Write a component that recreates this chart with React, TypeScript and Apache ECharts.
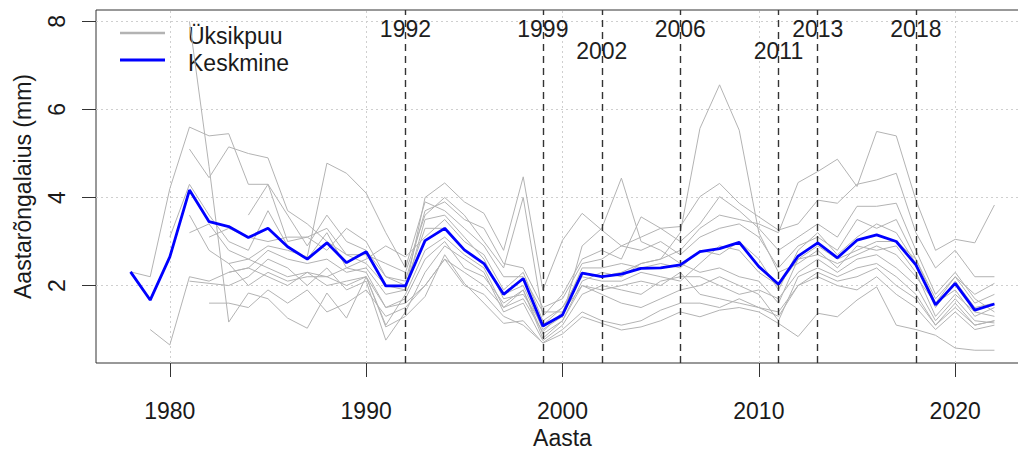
import React, { useEffect, useRef } from "react";
import * as echarts from "echarts";

const FIRST_YEAR = 1978;
const LAST_YEAR = 2022;
const YEARS: number[] = [];
for (let y = FIRST_YEAR; y <= LAST_YEAR; y++) YEARS.push(y);

// Keskmine (mean ring width, mm) 1978..2022
const MEAN = [
  2.31, 1.67, 2.65, 4.17, 3.45, 3.34, 3.09, 3.3, 2.88, 2.6,
  2.97, 2.52, 2.77, 1.99, 1.99, 3.02, 3.3, 2.81, 2.5, 1.8,
  2.16, 1.08, 1.33, 2.28, 2.2, 2.26, 2.39, 2.4, 2.47, 2.77,
  2.84, 2.98, 2.43, 2.03, 2.67, 2.97, 2.63, 3.03, 3.15, 3.0,
  2.47, 1.56, 2.05, 1.44, 1.58,
];

// Üksikpuu (individual trees): first year + yearly values up to 2022
const T1_START = 1978;
const T1 = [2.31, 2.2, 4.2, 5.6, 5.4, 5.45, 4.3, 4.3, 3.6, 2.9, 3.6, 3.0, 2.8, 2.2, 2.1, 3.7, 3.9, 3.5, 3.3, 2.5, 2.4, 1.5, 1.7, 2.5, 2.6, 2.9, 2.8, 3.0, 2.7, 3.1, 3.3, 3.4, 3.1, 2.4, 2.9, 3.1, 2.8, 3.5, 3.3, 3.5, 2.6, 1.7, 2.2, 1.6, 1.8];
const T2_START = 1979;
const T2 = [1.0, 0.65, 2.2, 2.1, 2.3, 2.4, 2.2, 2.0, 2.3, 2.2, 2.4, 2.3, 1.5, 1.6, 2.0, 2.6, 2.3, 2.0, 1.5, 1.9, 0.8, 1.2, 2.0, 1.9, 2.0, 2.1, 2.0, 2.3, 1.8, 1.7, 1.6, 1.5, 1.3, 2.0, 2.3, 2.1, 2.2, 2.4, 2.0, 1.7, 1.1, 1.5, 1.1, 1.2];
const T3_START = 1980;
const T3 = [3.1, 4.3, 3.6, 3.0, 2.8, 3.7, 2.9, 2.6, 3.2, 2.4, 2.6, 2.9, 2.65, 3.1, 3.5, 3.0, 2.7, 1.9, 2.3, 1.2, 1.5, 2.3, 2.2, 2.3, 2.5, 2.6, 2.8, 3.3, 3.6, 3.5, 3.4, 3.2, 4.34, 4.59, 4.87, 4.25, 5.5, 5.4, 3.94, 2.8, 3.05, 2.97, 3.83];
const T4_START = 1981;
const T4 = [8.0, 4.7, 1.17, 1.83, 1.7, 1.26, 1.03, 1.83, 1.26, 2.2, 1.06, 1.3, 1.75, 2.7, 2.05, 1.6, 1.14, 1.2, 0.69, 0.9, 1.29, 1.14, 0.99, 1.06, 1.2, 1.4, 1.29, 1.44, 1.5, 1.4, 1.14, 0.84, 1.37, 1.29, 1.67, 1.97, 1.1, 1.0, 0.87, 0.58, 0.53, 0.53];
const T5_START = 1981;
const T5 = [5.1, 4.45, 5.15, 5.0, 4.9, 3.7, 3.4, 3.0, 2.7, 2.5, 2.0, 1.9, 4.0, 4.33, 3.9, 3.64, 2.8, 4.47, 1.9, 3.03, 3.64, 3.26, 2.9, 3.1, 3.3, 3.34, 4.02, 4.32, 3.87, 3.56, 3.26, 3.4, 3.94, 3.87, 4.3, 4.4, 4.55, 3.2, 2.4, 2.8, 2.2, 2.2];
const T6_START = 1981;
const T6 = [3.6, 2.8, 2.5, 2.6, 2.4, 2.2, 2.3, 2.0, 2.1, 2.2, 1.5, 1.7, 2.6, 3.0, 2.4, 2.2, 1.6, 1.9, 0.9, 1.2, 2.1, 2.3, 2.2, 2.5, 2.6, 3.2, 5.57, 6.56, 5.53, 3.2, 2.3, 2.5, 2.8, 2.4, 2.9, 2.8, 2.9, 2.3, 1.3, 1.8, 1.4, 1.3];
const T7_START = 1981;
const T7 = [3.2, 3.4, 2.8, 2.6, 2.9, 2.8, 2.65, 4.78, 4.55, 4.1, 3.2, 2.4, 3.9, 3.7, 3.3, 2.9, 2.2, 2.2, 1.4, 1.4, 2.4, 2.4, 2.5, 2.4, 2.5, 2.4, 2.8, 2.7, 3.0, 2.6, 1.9, 2.8, 3.2, 2.7, 3.1, 3.4, 3.2, 2.5, 1.5, 2.1, 1.5, 1.6];
const T8_START = 1981;
const T8 = [2.1, 2.05, 2.0, 2.2, 2.6, 2.4, 2.0, 2.4, 1.9, 2.1, 0.76, 1.4, 2.3, 2.9, 2.6, 2.3, 1.4, 1.6, 0.75, 1.1, 1.8, 2.0, 1.9, 1.8, 2.1, 2.2, 2.2, 2.0, 1.8, 1.9, 1.7, 2.3, 2.6, 2.3, 2.6, 2.7, 2.4, 2.0, 1.2, 1.7, 1.2, 1.15];
const T9_START = 1982;
const T9 = [1.6, 1.6, 1.5, 1.9, 1.6, 1.9, 1.4, 1.6, 1.9, 1.3, 1.5, 2.0, 2.6, 2.0, 1.8, 1.3, 1.1, 0.7, 1.0, 1.4, 1.2, 1.1, 1.2, 1.44, 1.6, 1.6, 1.5, 1.7, 1.5, 1.4, 2.0, 2.2, 2.0, 1.9, 2.2, 1.8, 1.5, 1.0, 1.4, 1.0, 1.1];
const T10_START = 1982;
const T10 = [3.1, 3.3, 3.1, 3.0, 3.1, 3.1, 2.8, 3.3, 3.0, 2.2, 2.0, 3.3, 3.3, 2.8, 2.5, 1.8, 2.0, 1.0, 1.3, 2.9, 3.3, 4.44, 3.0, 2.8, 2.5, 2.3, 2.4, 2.2, 2.1, 1.6, 2.6, 2.9, 2.6, 2.8, 3.0, 3.0, 2.6, 1.6, 2.2, 1.8, 2.05];
const T11_START = 1983;
const T11 = [2.3, 2.4, 2.8, 2.6, 2.5, 2.6, 2.3, 2.4, 1.8, 1.9, 3.5, 3.6, 3.1, 2.6, 1.7, 1.8, 1.1, 1.5, 2.2, 2.1, 2.1, 2.3, 2.2, 2.1, 2.5, 2.9, 2.8, 2.3, 2.0, 2.6, 2.7, 2.5, 2.7, 2.9, 2.7, 2.2, 1.6, 1.9, 1.3, 1.5];
const T12_START = 1983;
const T12 = [2.5, 2.0, 2.3, 2.1, 2.2, 2.2, 2.0, 2.2, 1.1, 1.8, 2.8, 3.1, 2.7, 2.4, 1.5, 1.7, 0.95, 1.4, 2.0, 1.8, 1.6, 1.5, 1.7, 1.9, 2.0, 2.2, 2.0, 1.8, 1.2, 2.2, 2.4, 2.2, 2.4, 2.5, 2.2, 1.8, 1.1, 1.6, 1.1, 1.2];
const T13_START = 1984;
const T13 = [3.6, 4.3, 3.0, 3.1, 3.3, 2.7, 2.7, 2.5, 2.3, 3.6, 4.0, 3.6, 3.0, 2.4, 4.0, 1.3, 1.8, 2.6, 2.8, 2.6, 3.56, 3.3, 3.0, 3.4, 4.02, 3.7, 3.3, 2.8, 3.1, 3.4, 3.1, 3.8, 3.8, 3.87, 2.8, 1.8, 2.3, 1.7, 1.4];

const TREES: { start: number; values: number[] }[] = [
  { start: T1_START, values: T1 },
  { start: T2_START, values: T2 },
  { start: T3_START, values: T3 },
  { start: T4_START, values: T4 },
  { start: T5_START, values: T5 },
  { start: T6_START, values: T6 },
  { start: T7_START, values: T7 },
  { start: T8_START, values: T8 },
  { start: T9_START, values: T9 },
  { start: T10_START, values: T10 },
  { start: T11_START, values: T11 },
  { start: T12_START, values: T12 },
  { start: T13_START, values: T13 },
];

const X_TICKS = [1980, 1990, 2000, 2010, 2020];
const Y_TICKS = [2, 4, 6, 8];
const EVENT_YEARS = [1992, 1999, 2002, 2006, 2011, 2013, 2018];
const EVENT_ROW = [0, 0, 1, 0, 1, 0, 0];

const SERIES_NAMES = { tree: "Üksikpuu", mean: "Keskmine" };
const X_TITLE = "Aasta";
const Y_TITLE = "Aastarõngalaius (mm)";

const FONT = "'Liberation Sans', Arial, Helvetica, sans-serif";
const TEXT_COLOR = "#1a1a1a";
const GREY = "#b3b3b3";
const BLUE = "#0000ff";

export default function App() {
  const ref = useRef<HTMLDivElement>(null);

  useEffect(() => {
    if (!ref.current) return;
    const chart = echarts.init(ref.current, null, { renderer: "svg" });

    const treeSeries = TREES.map((t, idx) => ({
      type: "line",
      name: SERIES_NAMES.tree,
      data: t.values.map((v, i) => [t.start + i, v]),
      showSymbol: false,
      symbol: "none",
      silent: true,
      z: 2,
      lineStyle: { color: GREY, width: 1 },
      ...(idx === 0
        ? {
            markLine: {
              silent: true,
              symbol: ["none", "none"],
              label: { show: false },
              z: 1,
              lineStyle: { color: "#cfcfcf", type: [2, 3], width: 1 },
              data: [
                ...X_TICKS.map((x) => ({ xAxis: x })),
                ...Y_TICKS.map((y) => ({ yAxis: y })),
              ],
            },
          }
        : {}),
    }));

    const option: any = {
      animation: false,
      backgroundColor: "#ffffff",
      grid: {
        left: 96,
        top: 10,
        right: -11,
        bottom: 88,
        show: true,
        borderColor: "#333333",
        borderWidth: 1,
        containLabel: false,
        outerBoundsMode: "none",
      },
      xAxis: {
        type: "value",
        min: 1976.24,
        max: 2023.76,
        name: X_TITLE,
        nameLocation: "middle",
        nameGap: 63,
        nameTextStyle: { fontSize: 23, fontFamily: FONT, color: TEXT_COLOR },
        axisLine: { show: false },
        splitLine: { show: false },
        axisTick: {
          show: true,
          customValues: X_TICKS,
          length: 14,
          lineStyle: { color: "#333333", width: 1 },
        },
        axisLabel: {
          show: true,
          customValues: X_TICKS,
          margin: 36,
          fontSize: 23,
          fontFamily: FONT,
          color: TEXT_COLOR,
          formatter: (v: number) => String(v),
        },
      },
      yAxis: {
        type: "value",
        min: 0.24,
        max: 8.26,
        name: Y_TITLE,
        nameLocation: "middle",
        nameRotate: 90,
        nameGap: 62,
        nameTextStyle: { fontSize: 23, fontFamily: FONT, color: TEXT_COLOR },
        axisLine: { show: false },
        splitLine: { show: false },
        axisTick: {
          show: true,
          customValues: Y_TICKS,
          length: 14,
          lineStyle: { color: "#333333", width: 1 },
        },
        axisLabel: {
          show: true,
          customValues: Y_TICKS,
          rotate: 90,
          margin: 28,
          fontSize: 23,
          fontFamily: FONT,
          color: TEXT_COLOR,
          formatter: (v: number) => String(v),
        },
      },
      series: [
        ...treeSeries,
        {
          type: "line",
          name: SERIES_NAMES.mean,
          data: MEAN.map((v, i) => [YEARS[i], v]),
          showSymbol: false,
          symbol: "none",
          silent: true,
          z: 6,
          lineStyle: { color: BLUE, width: 2.8 },
        },
        {
          type: "scatter",
          name: "events",
          silent: true,
          z: 5,
          symbol: "circle",
          symbolSize: 2,
          itemStyle: { color: "rgba(0,0,0,0)" },
          data: EVENT_YEARS.map((y, i) => [y, EVENT_ROW[i] === 0 ? 7.83 : 7.33]),
          label: {
            show: true,
            position: "inside",
            formatter: (p: any) => String(p.value[0]),
            fontSize: 23,
            fontFamily: FONT,
            color: "#1e1e1e",
            opacity: 1,
            textBorderWidth: 0,
          },
          markLine: {
            silent: true,
            symbol: ["none", "none"],
            label: { show: false },
            lineStyle: { color: "#333333", type: [7, 5], width: 1.4 },
            data: EVENT_YEARS.map((y) => ({ xAxis: y })),
          },
        },
      ],
      graphic: [
        {
          type: "line",
          shape: { x1: 120, y1: 33, x2: 165, y2: 33 },
          style: { stroke: GREY, lineWidth: 2.5 },
        },
        {
          type: "line",
          shape: { x1: 120, y1: 60, x2: 165, y2: 60 },
          style: { stroke: BLUE, lineWidth: 2.8 },
        },
        {
          type: "text",
          x: 188,
          y: 36,
          style: {
            text: SERIES_NAMES.tree,
            fontSize: 23,
            fontFamily: FONT,
            fill: TEXT_COLOR,
            verticalAlign: "middle",
            align: "left",
          },
        },
        {
          type: "text",
          x: 188,
          y: 63,
          style: {
            text: SERIES_NAMES.mean,
            fontSize: 23,
            fontFamily: FONT,
            fill: TEXT_COLOR,
            verticalAlign: "middle",
            align: "left",
          },
        },
      ],
    };

    chart.setOption(option);
    return () => chart.dispose();
  }, []);

  return (
    <div
      ref={ref}
      style={{ position: "fixed", left: 0, top: 0, width: 1018, height: 451, background: "#fff" }}
    />
  );
}
